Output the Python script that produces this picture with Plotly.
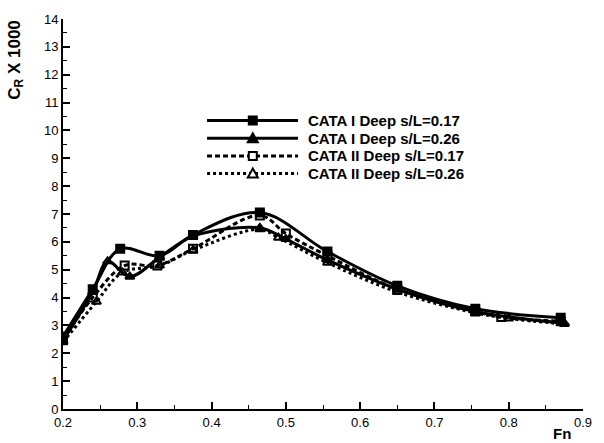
import plotly.graph_objects as go

# CATA I Deep s/L=0.17 (solid, filled squares)
x_a = [0.2, 0.24, 0.277, 0.33, 0.375, 0.465, 0.556, 0.65, 0.755, 0.87]
y_a = [2.6, 4.3, 5.75, 5.5, 6.25, 7.05, 5.65, 4.42, 3.6, 3.28]
# CATA I Deep s/L=0.26 (solid, filled triangles)
x_b = [0.2, 0.24, 0.26, 0.29, 0.33, 0.375, 0.465, 0.5, 0.556, 0.65, 0.755, 0.875]
y_b = [2.45, 4.2, 5.3, 4.75, 5.45, 6.2, 6.5, 6.1, 5.35, 4.3, 3.5, 3.08]
# CATA II Deep s/L=0.17 (dashed, open squares)
x_c = [0.2, 0.24, 0.283, 0.327, 0.375, 0.465, 0.5, 0.556, 0.65, 0.755, 0.79, 0.87]
y_c = [2.5, 4.0, 5.15, 5.15, 5.75, 6.95, 6.3, 5.5, 4.3, 3.5, 3.3, 3.15]
# CATA II Deep s/L=0.26 (dotted, open triangles)
x_d = [0.2, 0.245, 0.28, 0.33, 0.375, 0.465, 0.49, 0.556, 0.65, 0.755, 0.8, 0.875]
y_d = [2.4, 3.85, 4.9, 5.15, 5.7, 6.45, 6.15, 5.25, 4.2, 3.45, 3.25, 3.05]

names = ["CATA I Deep s/L=0.17", "CATA I Deep s/L=0.26",
         "CATA II Deep s/L=0.17", "CATA II Deep s/L=0.26"]
x_ticks = [0.2, 0.3, 0.4, 0.5, 0.6, 0.7, 0.8, 0.9]
x_tick_text = ["0.2", "0.3", "0.4", "0.5", "0.6", "0.7", "0.8", "0.9"]
y_ticks = list(range(0, 15))

dashes = ["solid", "solid", "5px,3px", "3px,3px"]
symbols = ["square", "triangle-up", "square-open", "triangle-up-open"]
series = [(x_a, y_a), (x_b, y_b), (x_c, y_c), (x_d, y_d)]

fig = go.Figure()
for (xs, ys), nm, dash, sym in zip(series, names, dashes, symbols):
    fig.add_trace(go.Scatter(
        x=xs, y=ys, name=nm, mode="lines+markers", showlegend=False,
        line=dict(color="black", width=3, dash=dash, shape="spline", smoothing=1.0),
        marker=dict(symbol=sym, size=8, color="black",
                    line=dict(color="black", width=2)),
    ))

font = "Liberation Sans, Arial, sans-serif"
fig.update_layout(
    width=604, height=443,
    margin=dict(l=63, r=17, t=13, b=34),
    paper_bgcolor="white", plot_bgcolor="white",
    font=dict(family=font, color="black", size=13),
    showlegend=False,
)
fig.update_xaxes(
    range=[0.2, 0.9], tickvals=x_ticks, ticktext=x_tick_text,
    showgrid=False, zeroline=False, showline=True, linecolor="black", linewidth=2,
    ticks="inside", ticklen=7, tickwidth=2, tickcolor="black",
    minor=dict(dtick=0.05, ticks="inside", ticklen=4, tickwidth=1, tickcolor="black"),
    tickfont=dict(size=13),
)
fig.update_yaxes(
    range=[0, 14], tickvals=y_ticks,
    showgrid=False, zeroline=False, showline=True, linecolor="black", linewidth=2,
    ticks="inside", ticklen=7, tickwidth=2, tickcolor="black",
    minor=dict(dtick=0.5, ticks="inside", ticklen=4, tickwidth=1, tickcolor="black"),
    tickfont=dict(size=13),
)

# hand-made legend with long line samples (paper coordinates)
leg_x0, leg_x1, leg_xm, leg_text = 0.277, 0.452, 0.365, 0.468
leg_rows = [0.740, 0.694, 0.649, 0.604]
tri_up = "M-5,-4 L5,-4 L0,5 Z"
for nm, dash, sym, yy in zip(names, dashes, symbols, leg_rows):
    fig.add_shape(type="line", xref="paper", yref="paper",
                  x0=leg_x0, x1=leg_x1, y0=yy, y1=yy,
                  line=dict(color="black", width=3, dash=dash))
    filled = not sym.endswith("open")
    fill = "black" if filled else "white"
    if sym.startswith("square"):
        fig.add_shape(type="rect", xref="paper", yref="paper",
                      xsizemode="pixel", ysizemode="pixel",
                      xanchor=leg_xm, yanchor=yy, x0=-4, x1=4, y0=-4, y1=4,
                      fillcolor=fill, line=dict(color="black", width=2))
    else:
        fig.add_shape(type="path", xref="paper", yref="paper",
                      xsizemode="pixel", ysizemode="pixel",
                      xanchor=leg_xm, yanchor=yy, path=tri_up,
                      fillcolor=fill, line=dict(color="black", width=2))
    fig.add_annotation(text="<b>" + nm + "</b>", xref="paper", yref="paper",
                       x=leg_text, y=yy, xanchor="left", yanchor="middle",
                       showarrow=False, font=dict(size=15))

fig.add_annotation(text="<b>C<sub>R</sub> X 1000</b>", textangle=-90,
                   xref="paper", yref="paper", x=-0.067, y=1.0,
                   xanchor="right", yanchor="top", showarrow=False,
                   font=dict(size=17))
fig.add_annotation(text="<b>Fn</b>", xref="paper", yref="paper",
                   x=0.96, y=-0.063, xanchor="center", yanchor="middle",
                   showarrow=False, font=dict(size=15), borderpad=0)
fig.write_html("out.html", config={"displayModeBar": False},
               post_script="document.body.style.margin='0';")
